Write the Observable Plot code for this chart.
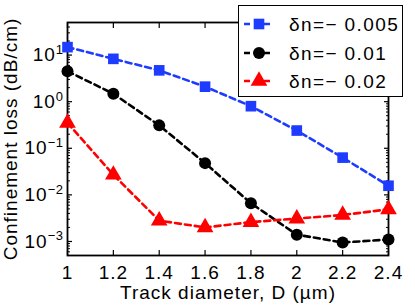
<!DOCTYPE html>
<html><head><meta charset="utf-8">
<script src="https://cdn.jsdelivr.net/npm/d3@7"></script>
<script src="https://cdn.jsdelivr.net/npm/@observablehq/plot@0.6"></script>
<style>
body{margin:0;background:#fff;}
#wrap{position:relative;width:415px;height:308px;font-family:"Liberation Sans",Arial,Helvetica,sans-serif;}
#legend{position:absolute;left:238px;top:5px;width:165px;height:92px;background:#fff;border:1.5px solid #000;box-sizing:border-box;}
#legend svg{display:block;}
</style></head><body><div id="wrap"><div id="chart"></div><div id="legend"></div></div>
<script>
// ---- data ----
const diameters = [1, 1.2, 1.4, 1.6, 1.8, 2.0, 2.2, 2.4];
const loss005 = [14.8, 8.3, 4.7, 2.1, 0.8, 0.24, 0.063, 0.0157];
const loss01  = [4.5, 1.48, 0.31, 0.048, 0.0066, 0.0014, 0.00095, 0.0011];
const loss02  = [0.35, 0.027, 0.0028, 0.002, 0.0026, 0.0031, 0.0037, 0.0049];
const seriesNames = ["δn=− 0.005", "δn=− 0.01", "δn=− 0.02"];
const seriesColors = ["#1e3cff", "#000000", "#ff0000"];
const seriesSymbols = ["square", "circle", "triangle"];
const seriesRadius = [6, 6, 6.2];
const xTicks = [1, 1.2, 1.4, 1.6, 1.8, 2, 2.2, 2.4];
const xTickLabels = ["1", "1.2", "1.4", "1.6", "1.8", "2", "2.2", "2.4"];
const yTicks = [1e-3, 1e-2, 1e-1, 1, 10];
const yTickExps = ["−3", "−2", "−1", "0", "1"];
const yDomain = [5e-4, 50];

const seriesValues = [loss005, loss01, loss02];
const series = seriesNames.map((name, i) => diameters.map((d, j) => ({d, v: seriesValues[i][j], name})));

const minorTicks = [];
for (let e = -4; e <= 1; e++) for (let m = 2; m <= 9; m++) {
  const v = m * Math.pow(10, e);
  if (v >= yDomain[0] && v <= yDomain[1]) minorTicks.push(v);
}

const font = "Liberation Sans, Arial, Helvetica, sans-serif";
const fs = 19;
const ls = "1px";
const dash = "6,4";

const marks = [
  Plot.frame({stroke: "black", strokeWidth: 1.8}),
  Plot.axisX(xTicks, {anchor: "bottom", tickSize: -5, text: null, label: null, strokeWidth: 1.2}),
  Plot.axisX(xTicks, {anchor: "top", tickSize: -5, text: null, label: null, strokeWidth: 1.2}),
  Plot.axisY(yTicks, {anchor: "left", tickSize: -5, text: null, label: null, strokeWidth: 1.2}),
  Plot.axisY(yTicks, {anchor: "right", tickSize: -5, text: null, label: null, strokeWidth: 1.2}),
  Plot.axisY(minorTicks, {anchor: "left", tickSize: -3, text: null, label: null, strokeWidth: 1}),
  Plot.axisY(minorTicks, {anchor: "right", tickSize: -3, text: null, label: null, strokeWidth: 1}),
  Plot.axisX(xTicks, {anchor: "bottom", tickSize: 0, tickPadding: 10, fontSize: fs,
    tickFormat: (d) => xTickLabels[xTicks.indexOf(d)],
    label: "Track diameter, D (µm)", labelAnchor: "center", labelArrow: "none", labelOffset: 43}),
  Plot.axisY(yTicks, {anchor: "left", tickSize: 0, tickPadding: 4, fontSize: fs,
    tickFormat: (d) => "10^" + yTickExps[yTicks.indexOf(d)],
    label: "Confinement loss (dB/cm)", labelAnchor: "center", labelArrow: "none", labelOffset: 64})
];
series.forEach((s, i) => {
  marks.push(Plot.line(s, {x: "d", y: "v", stroke: seriesColors[i], strokeWidth: 2.6, strokeDasharray: dash}));
});
series.forEach((s, i) => {
  marks.push(Plot.dot(s, {x: "d", y: "v", symbol: () => seriesSymbols[i], fill: seriesColors[i], r: seriesRadius[i], stroke: "none"}));
});

const chart = Plot.plot({
  width: 415, height: 308,
  marginLeft: 67, marginRight: 27, marginTop: 22, marginBottom: 53,
  style: {fontFamily: font, fontSize: fs + "px", background: "white", color: "black", overflow: "visible", letterSpacing: ls},
  x: {domain: [1, 2.4]},
  y: {type: "log", domain: yDomain},
  marks
});
document.getElementById("chart").appendChild(chart);

// superscript exponents on y tick labels
d3.select(chart).selectAll("text").each(function() {
  const t = this.textContent;
  if (/^10\^/.test(t)) {
    const exp = t.slice(3);
    const sel = d3.select(this);
    sel.text(null);
    sel.append("tspan").text("10");
    sel.append("tspan").attr("dy", "-0.55em").attr("font-size", "13px").style("letter-spacing", "0.5px").text(exp);
  }
});
d3.select(chart).selectAll("text").attr("font-size", fs).style("letter-spacing", ls);

// legend
const lw = 162, lh = 89;
const lsvg = d3.select("#legend").append("svg").attr("width", lw).attr("height", lh)
  .style("font-family", font).style("font-size", "19px").style("letter-spacing", "1.4px");
const rowY = [18, 47, 75];
seriesNames.forEach((name, i) => {
  const g = lsvg.append("g").attr("transform", `translate(0,${rowY[i]})`);
  g.append("line").attr("x1", 5).attr("x2", 34).attr("y1", 0).attr("y2", 0)
    .attr("stroke", seriesColors[i]).attr("stroke-width", 2.6).attr("stroke-dasharray", dash);
  const sym = {square: d3.symbolSquare, circle: d3.symbolCircle, triangle: d3.symbolTriangle}[seriesSymbols[i]];
  g.append("path").attr("transform", "translate(20,0)")
    .attr("d", d3.symbol(sym, Math.PI * seriesRadius[i] * seriesRadius[i])())
    .attr("fill", seriesColors[i]);
  g.append("text").attr("x", 50).attr("y", 7).attr("fill", "black").text(name);
});
</script></body></html>
